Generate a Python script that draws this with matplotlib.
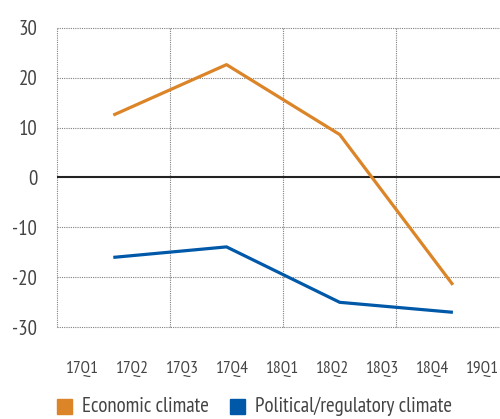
import matplotlib
matplotlib.use("Agg")
import matplotlib.pyplot as plt
from matplotlib.patches import Rectangle
import numpy as np

plt.rcParams['font.family'] = ['PT Sans Narrow', 'DejaVu Sans']

# half-yearly points (17Q2, 17Q4, 18Q2, 18Q4)
periods = ["17Q2", "17Q4", "18Q2", "18Q4"]
economic = [12.5, 22.6, 8.6, -21.5]
political = [-16.0, -13.9, -25.0, -27.0]
quarter_labels = ["17Q1", "17Q2", "17Q3", "17Q4", "18Q1", "18Q2", "18Q3", "18Q4", "19Q1"]
yticks = [-30, -20, -10, 0, 10, 20, 30]

orange = "#DB8428"
blue = "#0059A8"
txt = "#444444"

fig = plt.figure(figsize=(5.0, 4.19), dpi=100)
ax = fig.add_axes([0.1134, 0.2189, 0.8866, 0.7150])

x = np.arange(len(periods)) + 0.5
ax.plot(x, economic, color=orange, lw=2.3, solid_capstyle="butt", zorder=3)
ax.plot(x, political, color=blue, lw=2.3, solid_capstyle="butt", zorder=3)

ax.set_xlim(0, 3.916)
ax.set_ylim(-30, 30)

# dotted grid
for yv in yticks:
    if yv != 0:
        ax.axhline(yv, color="#808080", lw=0.8, ls=(0, (1, 1)), clip_on=False, zorder=1)
for xv in range(len(periods)):
    ax.axvline(xv, color="#808080", lw=0.8, ls=(0, (1, 1)), clip_on=False, zorder=1)
ax.axhline(0, color="#222222", lw=1.5, zorder=2)

for s in ax.spines.values():
    s.set_visible(False)

ax.set_yticks(yticks)
ax.set_yticklabels([str(v) for v in yticks])
ax.tick_params(axis="y", length=0, pad=14, labelsize=15, labelcolor=txt)

label_pos = np.linspace(0.2297, 3.763, len(quarter_labels))
ax.set_xticks(label_pos)
ax.set_xticklabels(quarter_labels)
ax.tick_params(axis="x", length=0, pad=24, labelsize=12.5, labelcolor=txt)

# legend drawn by hand
fig.patches.append(Rectangle((57 / 500, 1 - 414 / 419), 15 / 500, 15 / 419,
                             transform=fig.transFigure, color=orange, figure=fig))
fig.text(82 / 500, 1 - 406 / 419, "Economic climate", fontsize=15, color=txt, va="center")
fig.patches.append(Rectangle((230 / 500, 1 - 414 / 419), 15 / 500, 15 / 419,
                             transform=fig.transFigure, color=blue, figure=fig))
fig.text(255 / 500, 1 - 406 / 419, "Political/regulatory climate", fontsize=15, color=txt, va="center")

fig.savefig("out.png", dpi=100)
